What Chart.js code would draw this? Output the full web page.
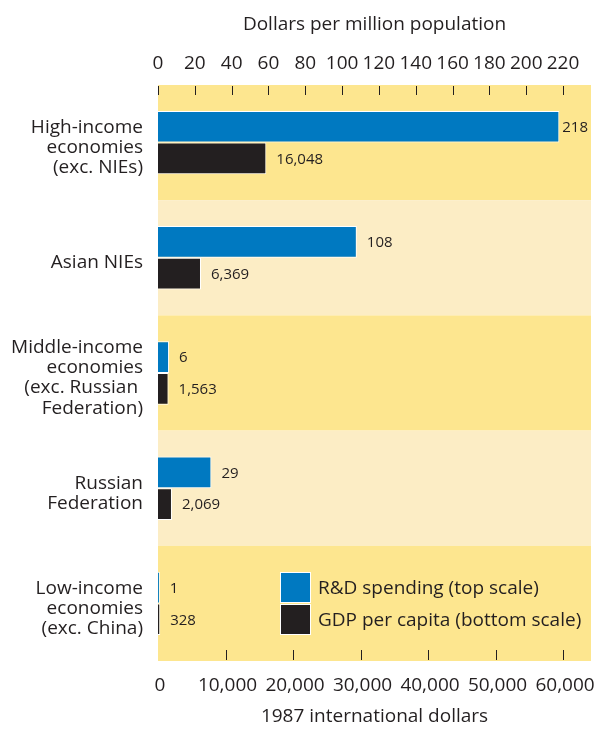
<!DOCTYPE html>
<html>
<head>
<meta charset="utf-8">
<script src="https://cdn.jsdelivr.net/npm/chart.js@4.4.1/dist/chart.umd.min.js"></script>
<style>
  html, body { margin: 0; padding: 0; background: #fff; }
  #wrap { width: 594px; height: 734px; position: relative; }
</style>
</head>
<body>
<div id="wrap"><canvas id="chart"></canvas></div>
<script>
// region groups, one label per band (multi-line)
const regions = [
  ['High-income', 'economies', '(exc. NIEs)'],
  ['Asian NIEs'],
  ['Middle-income', 'economies', '(exc. Russian ', 'Federation)'],
  ['Russian', 'Federation'],
  ['Low-income', 'economies', '(exc. China)']
];
// R&D spending, dollars per million population (top scale)
const rdSpending = [218, 108, 6, 29, 1];
// GDP per capita, 1987 international dollars (bottom scale)
const gdpPerCapita = [16048, 6369, 1563, 2069, 328];

const topTicks = [0, 20, 40, 60, 80, 100, 120, 140, 160, 180, 200, 220];
const bottomTicks = [0, 10000, 20000, 30000, 40000, 50000, 60000];

const TOP_MAX = 235.2;
const BOTTOM_MAX = TOP_MAX * 60000 / 220;

const FONT = '"Open Sans", "Noto Sans", sans-serif';
const TEXT_SIZE = 19;
const INK = '#231f20';
const BLUE = '#0079c1';
const BAND_DARK = '#fde68f';
const BAND_LIGHT = '#fcedc5';

// alternating horizontal bands behind each region
const bandsPlugin = {
  id: 'bands',
  beforeDatasetsDraw(chart) {
    const {ctx, chartArea} = chart;
    const y = chart.scales.y;
    const n = regions.length;
    const h = chartArea.height / n;
    ctx.save();
    for (let i = 0; i < n; i++) {
      const c = y.getPixelForValue(i);
      ctx.fillStyle = i % 2 === 0 ? BAND_DARK : BAND_LIGHT;
      ctx.fillRect(chartArea.left, c - h / 2, chartArea.width, h);
    }
    ctx.restore();
  }
};

// short tick marks drawn inside the plot area
const innerTicksPlugin = {
  id: 'innerTicks',
  afterDatasetsDraw(chart) {
    const {ctx, chartArea} = chart;
    ctx.save();
    ctx.strokeStyle = INK;
    ctx.lineWidth = 1;
    chart.scales.xTop.ticks.forEach(t => {
      const x = Math.round(chart.scales.xTop.getPixelForValue(t.value)) + 0.5;
      ctx.beginPath();
      ctx.moveTo(x, chartArea.top + 1);
      ctx.lineTo(x, chartArea.top + 10);
      ctx.stroke();
    });
    chart.scales.xBottom.ticks.forEach(t => {
      if (t.value === 0) return;
      const x = Math.round(chart.scales.xBottom.getPixelForValue(t.value)) + 0.5;
      ctx.beginPath();
      ctx.moveTo(x, chartArea.bottom - 11);
      ctx.lineTo(x, chartArea.bottom - 1);
      ctx.stroke();
    });
    ctx.restore();
  }
};

// value printed just past the end of each bar, kept inside the plot
const valueLabelsPlugin = {
  id: 'valueLabels',
  afterDatasetsDraw(chart) {
    const {ctx, chartArea} = chart;
    ctx.save();
    ctx.font = '15px ' + FONT;
    ctx.fillStyle = INK;
    ctx.textAlign = 'left';
    ctx.textBaseline = 'middle';
    chart.data.datasets.forEach((ds, di) => {
      chart.getDatasetMeta(di).data.forEach((bar, i) => {
        const txt = ds.data[i].toLocaleString('en-US');
        const w = ctx.measureText(txt).width;
        const x = Math.min(bar.x + 10, chartArea.right - w - 3);
        ctx.fillText(txt, x, bar.y + 1);
      });
    });
    ctx.restore();
  }
};

// two-row key in the lower right of the plot
const keyPlugin = {
  id: 'key',
  afterDraw(chart) {
    const {ctx, chartArea} = chart;
    const x0 = chartArea.left + 122;
    let y0 = chartArea.bottom - 89;
    const box = 31;
    ctx.save();
    ctx.font = TEXT_SIZE + 'px ' + FONT;
    ctx.textBaseline = 'middle';
    chart.data.datasets.forEach(ds => {
      ctx.fillStyle = ds.backgroundColor;
      ctx.fillRect(x0, y0, box, box);
      ctx.strokeStyle = '#fff';
      ctx.lineWidth = 1;
      ctx.strokeRect(x0 + 0.5, y0 + 0.5, box - 1, box - 1);
      ctx.fillStyle = INK;
      ctx.fillText(ds.label, x0 + box + 7, y0 + box / 2 + 1);
      y0 += box + 1;
    });
    ctx.restore();
  }
};

// keep the end tick labels from shrinking the plot width
function noSidePadding(scale) {
  scale.paddingLeft = 0;
  scale.paddingRight = 0;
}

new Chart(document.getElementById('chart'), {
  type: 'bar',
  data: {
    labels: regions,
    datasets: [
      {
        label: 'R&D spending (top scale)',
        data: rdSpending,
        xAxisID: 'xTop',
        backgroundColor: BLUE,
        borderColor: '#fff',
        borderWidth: 1,
        borderSkipped: 'start',
        categoryPercentage: 0.55,
        barPercentage: 1
      },
      {
        label: 'GDP per capita (bottom scale)',
        data: gdpPerCapita,
        xAxisID: 'xBottom',
        backgroundColor: INK,
        borderColor: '#fff',
        borderWidth: 1,
        borderSkipped: 'start',
        categoryPercentage: 0.55,
        barPercentage: 1
      }
    ]
  },
  options: {
    indexAxis: 'y',
    responsive: true,
    maintainAspectRatio: false,
    animation: false,
    layout: { padding: { left: 0, right: 3, top: 0, bottom: 0 } },
    plugins: {
      legend: { display: false },
      tooltip: { enabled: false }
    },
    scales: {
      y: {
        type: 'category',
        grid: { display: false, drawTicks: false },
        border: { display: false },
        afterFit(scale) { scale.width = 158; scale.paddingTop = 0; scale.paddingBottom = 0; },
        ticks: {
          color: INK,
          padding: 15,
          labelOffset: 5,
          font: { family: FONT, size: TEXT_SIZE, lineHeight: 1.06 }
        }
      },
      xTop: {
        position: 'top',
        min: 0,
        max: TOP_MAX,
        grid: { display: false, drawTicks: false },
        border: { display: false },
        afterFit(scale) { scale.height = 85; noSidePadding(scale); },
        afterBuildTicks(scale) { scale.ticks = topTicks.map(v => ({value: v})); },
        ticks: {
          color: INK,
          padding: 10,
          maxRotation: 0,
          autoSkip: false,
          font: { family: FONT, size: TEXT_SIZE }
        },
        title: {
          display: true,
          text: 'Dollars per million population',
          color: INK,
          padding: { top: 13, bottom: 0 },
          font: { family: FONT, size: TEXT_SIZE }
        }
      },
      xBottom: {
        position: 'bottom',
        min: 0,
        max: BOTTOM_MAX,
        grid: { display: false, drawTicks: false },
        border: { display: false },
        afterFit(scale) { scale.height = 73; noSidePadding(scale); },
        afterBuildTicks(scale) { scale.ticks = bottomTicks.map(v => ({value: v})); },
        ticks: {
          color: INK,
          padding: 13,
          labelOffset: 2,
          maxRotation: 0,
          autoSkip: false,
          font: { family: FONT, size: TEXT_SIZE },
          callback: v => v.toLocaleString('en-US')
        },
        title: {
          display: true,
          text: '1987 international dollars',
          color: INK,
          padding: { top: 0, bottom: 6 },
          font: { family: FONT, size: TEXT_SIZE }
        }
      }
    }
  },
  plugins: [bandsPlugin, innerTicksPlugin, valueLabelsPlugin, keyPlugin]
});
</script>
</body>
</html>
